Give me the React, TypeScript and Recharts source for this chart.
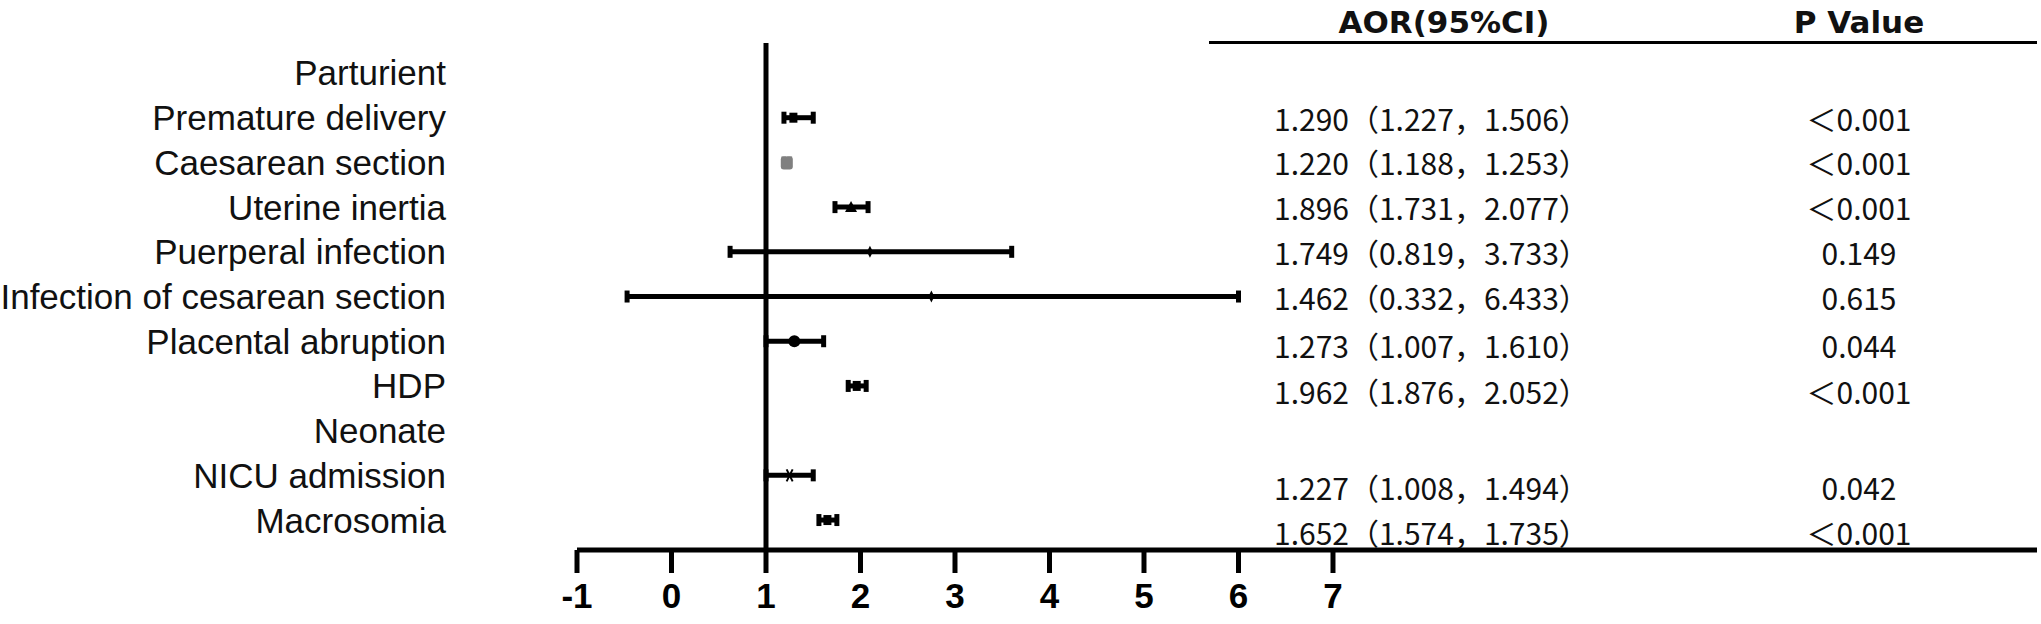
import React from "react";
import { ScatterChart, Scatter, ErrorBar, XAxis, YAxis, ReferenceLine } from "recharts";

// rows from top to bottom (index = y value)
const rowLabels = [
  "Parturient",
  "Premature delivery",
  "Caesarean section",
  "Uterine inertia",
  "Puerperal infection",
  "Infection of cesarean section",
  "Placental abruption",
  "HDP",
  "Neonate",
  "NICU admission",
  "Macrosomia",
];

// plotted estimate and interval ends (null = heading row)
const pointValues = [null, 1.29, 1.22, 1.9, 2.1, 2.75, 1.3, 1.96, null, 1.25, 1.65];
const lowValues = [null, 1.19, 1.19, 1.73, 0.62, -0.47, 1.0, 1.87, null, 1.0, 1.56];
const highValues = [null, 1.5, 1.25, 2.08, 3.6, 6.0, 1.61, 2.06, null, 1.5, 1.75];

const aorTexts = [
  "",
  "1.290（1.227，1.506）",
  "1.220（1.188，1.253）",
  "1.896（1.731，2.077）",
  "1.749（0.819，3.733）",
  "1.462（0.332，6.433）",
  "1.273（1.007，1.610）",
  "1.962（1.876，2.052）",
  "",
  "1.227（1.008，1.494）",
  "1.652（1.574，1.735）",
];
const pTexts = ["", "＜0.001", "＜0.001", "＜0.001", "0.149", "0.615", "0.044", "＜0.001", "", "0.042", "＜0.001"];

const xTicks = [-1, 0, 1, 2, 3, 4, 5, 6, 7];
const rowTicks = rowLabels.map((_, i) => i);

// marker look per row
const markerKind = ["", "square", "block", "triangle", "diamond", "diamond", "circle", "square", "", "cross", "square"];
const markerColor = ["", "#000", "#808080", "#000", "#000", "#000", "#000", "#000", "", "#000", "#000"];

const W = 2041;
const H = 624;
const aorX = 1274;
const pX = 1859;
const tableNudge: Record<number, number> = { 6: 4, 7: 5, 9: 12, 10: 12 };

const Marker = (props: any) => {
  const { cx, cy, kind, color } = props;
  if (cx == null || cy == null) return null;
  switch (kind) {
    case "circle":
      return <circle cx={cx} cy={cy} r={6} fill={color} />;
    case "triangle":
      return <polygon points={`${cx},${cy - 6} ${cx - 6},${cy + 5} ${cx + 6},${cy + 5}`} fill={color} />;
    case "diamond":
      return <polygon points={`${cx},${cy - 6} ${cx - 3},${cy} ${cx},${cy + 6} ${cx + 3},${cy}`} fill={color} />;
    case "cross":
      return (
        <g stroke={color} strokeWidth={2}>
          <line x1={cx - 3} y1={cy - 6} x2={cx + 3} y2={cy + 6} />
          <line x1={cx + 3} y1={cy - 6} x2={cx - 3} y2={cy + 6} />
        </g>
      );
    case "block":
      return <rect x={cx - 6} y={cy - 6} width={12} height={13} rx={3} fill={color} />;
    default:
      return <rect x={cx - 4} y={cy - 5} width={8} height={10} fill={color} />;
  }
};

const RowTick = (props: any) => {
  const { x, y, payload } = props;
  const i = payload.value as number;
  const ty = y + (tableNudge[i] || 0);
  return (
    <g>
      <text x={x} y={y} textAnchor="end" dominantBaseline="central" fontFamily="Liberation Sans, Arial" fontSize={35} fill="#111">
        {rowLabels[i]}
      </text>
      <text x={aorX} y={ty} textAnchor="start" dominantBaseline="central" fontFamily="Noto Sans CJK SC" fontSize={30} fill="#111">
        {aorTexts[i]}
      </text>
      <text x={pX} y={ty} textAnchor="middle" dominantBaseline="central" fontFamily="Noto Sans CJK SC" fontSize={30} fill="#111">
        {pTexts[i]}
      </text>
    </g>
  );
};

const series = rowLabels
  .map((name, i) => ({ name, i }))
  .filter(({ i }) => pointValues[i] != null)
  .map(({ name, i }) => ({
    name,
    i,
    data: [
      {
        x: pointValues[i] as number,
        y: i,
        err: [(pointValues[i] as number) - (lowValues[i] as number), (highValues[i] as number) - (pointValues[i] as number)],
      },
    ],
  }));

export default function App() {
  return (
    <div style={{ position: "absolute", left: 0, top: 0, width: W, height: H, background: "#fff" }}>
      <ScatterChart width={W} height={H} margin={{ top: 43, right: 4, left: 0, bottom: 0 }}>
        <XAxis
          type="number"
          dataKey="x"
          domain={[-1, 14.45]}
          ticks={xTicks}
          interval={0}
          allowDataOverflow
          height={74}
          axisLine={{ stroke: "#000", strokeWidth: 5 }}
          tickLine={{ stroke: "#000", strokeWidth: 5 }}
          tickSize={23}
          tickMargin={10}
          tick={{ fill: "#000", fontSize: 35, fontWeight: 700, fontFamily: "Liberation Sans, Arial" }}
        />
        <YAxis
          type="number"
          dataKey="y"
          domain={[-0.671, 10.67]}
          reversed
          allowDataOverflow
          ticks={rowTicks}
          interval={0}
          width={577}
          axisLine={false}
          tickLine={false}
          tickSize={0}
          tickMargin={131}
          tick={<RowTick />}
        />
        <ReferenceLine x={1} stroke="#000" strokeWidth={5} />
        {series.map((s) => (
          <Scatter
            key={s.name}
            name={s.name}
            data={s.data}
            isAnimationActive={false}
            shape={(p: any) => <Marker {...p} kind={markerKind[s.i]} color={markerColor[s.i]} />}
          >
            <ErrorBar
              dataKey="err"
              direction="x"
              width={6}
              stroke={markerColor[s.i]}
              strokeWidth={5}
              isAnimationActive={false}
            />
          </Scatter>
        ))}
      </ScatterChart>
      <div
        style={{
          position: "absolute",
          left: 1209,
          top: 0,
          width: 2037 - 1209,
          height: 41,
          borderBottom: "3px solid #000",
          fontFamily: "DejaVu Sans, Verdana",
          fontWeight: 700,
          fontSize: 31,
          lineHeight: "36px",
          color: "#111",
        }}
      >
        <div style={{ position: "absolute", left: 1444 - 1209 - 200, width: 400, top: 4, textAlign: "center" }}>AOR(95%CI)</div>
        <div style={{ position: "absolute", left: 1859 - 1209 - 200, width: 400, top: 4, textAlign: "center" }}>P Value</div>
      </div>
    </div>
  );
}
